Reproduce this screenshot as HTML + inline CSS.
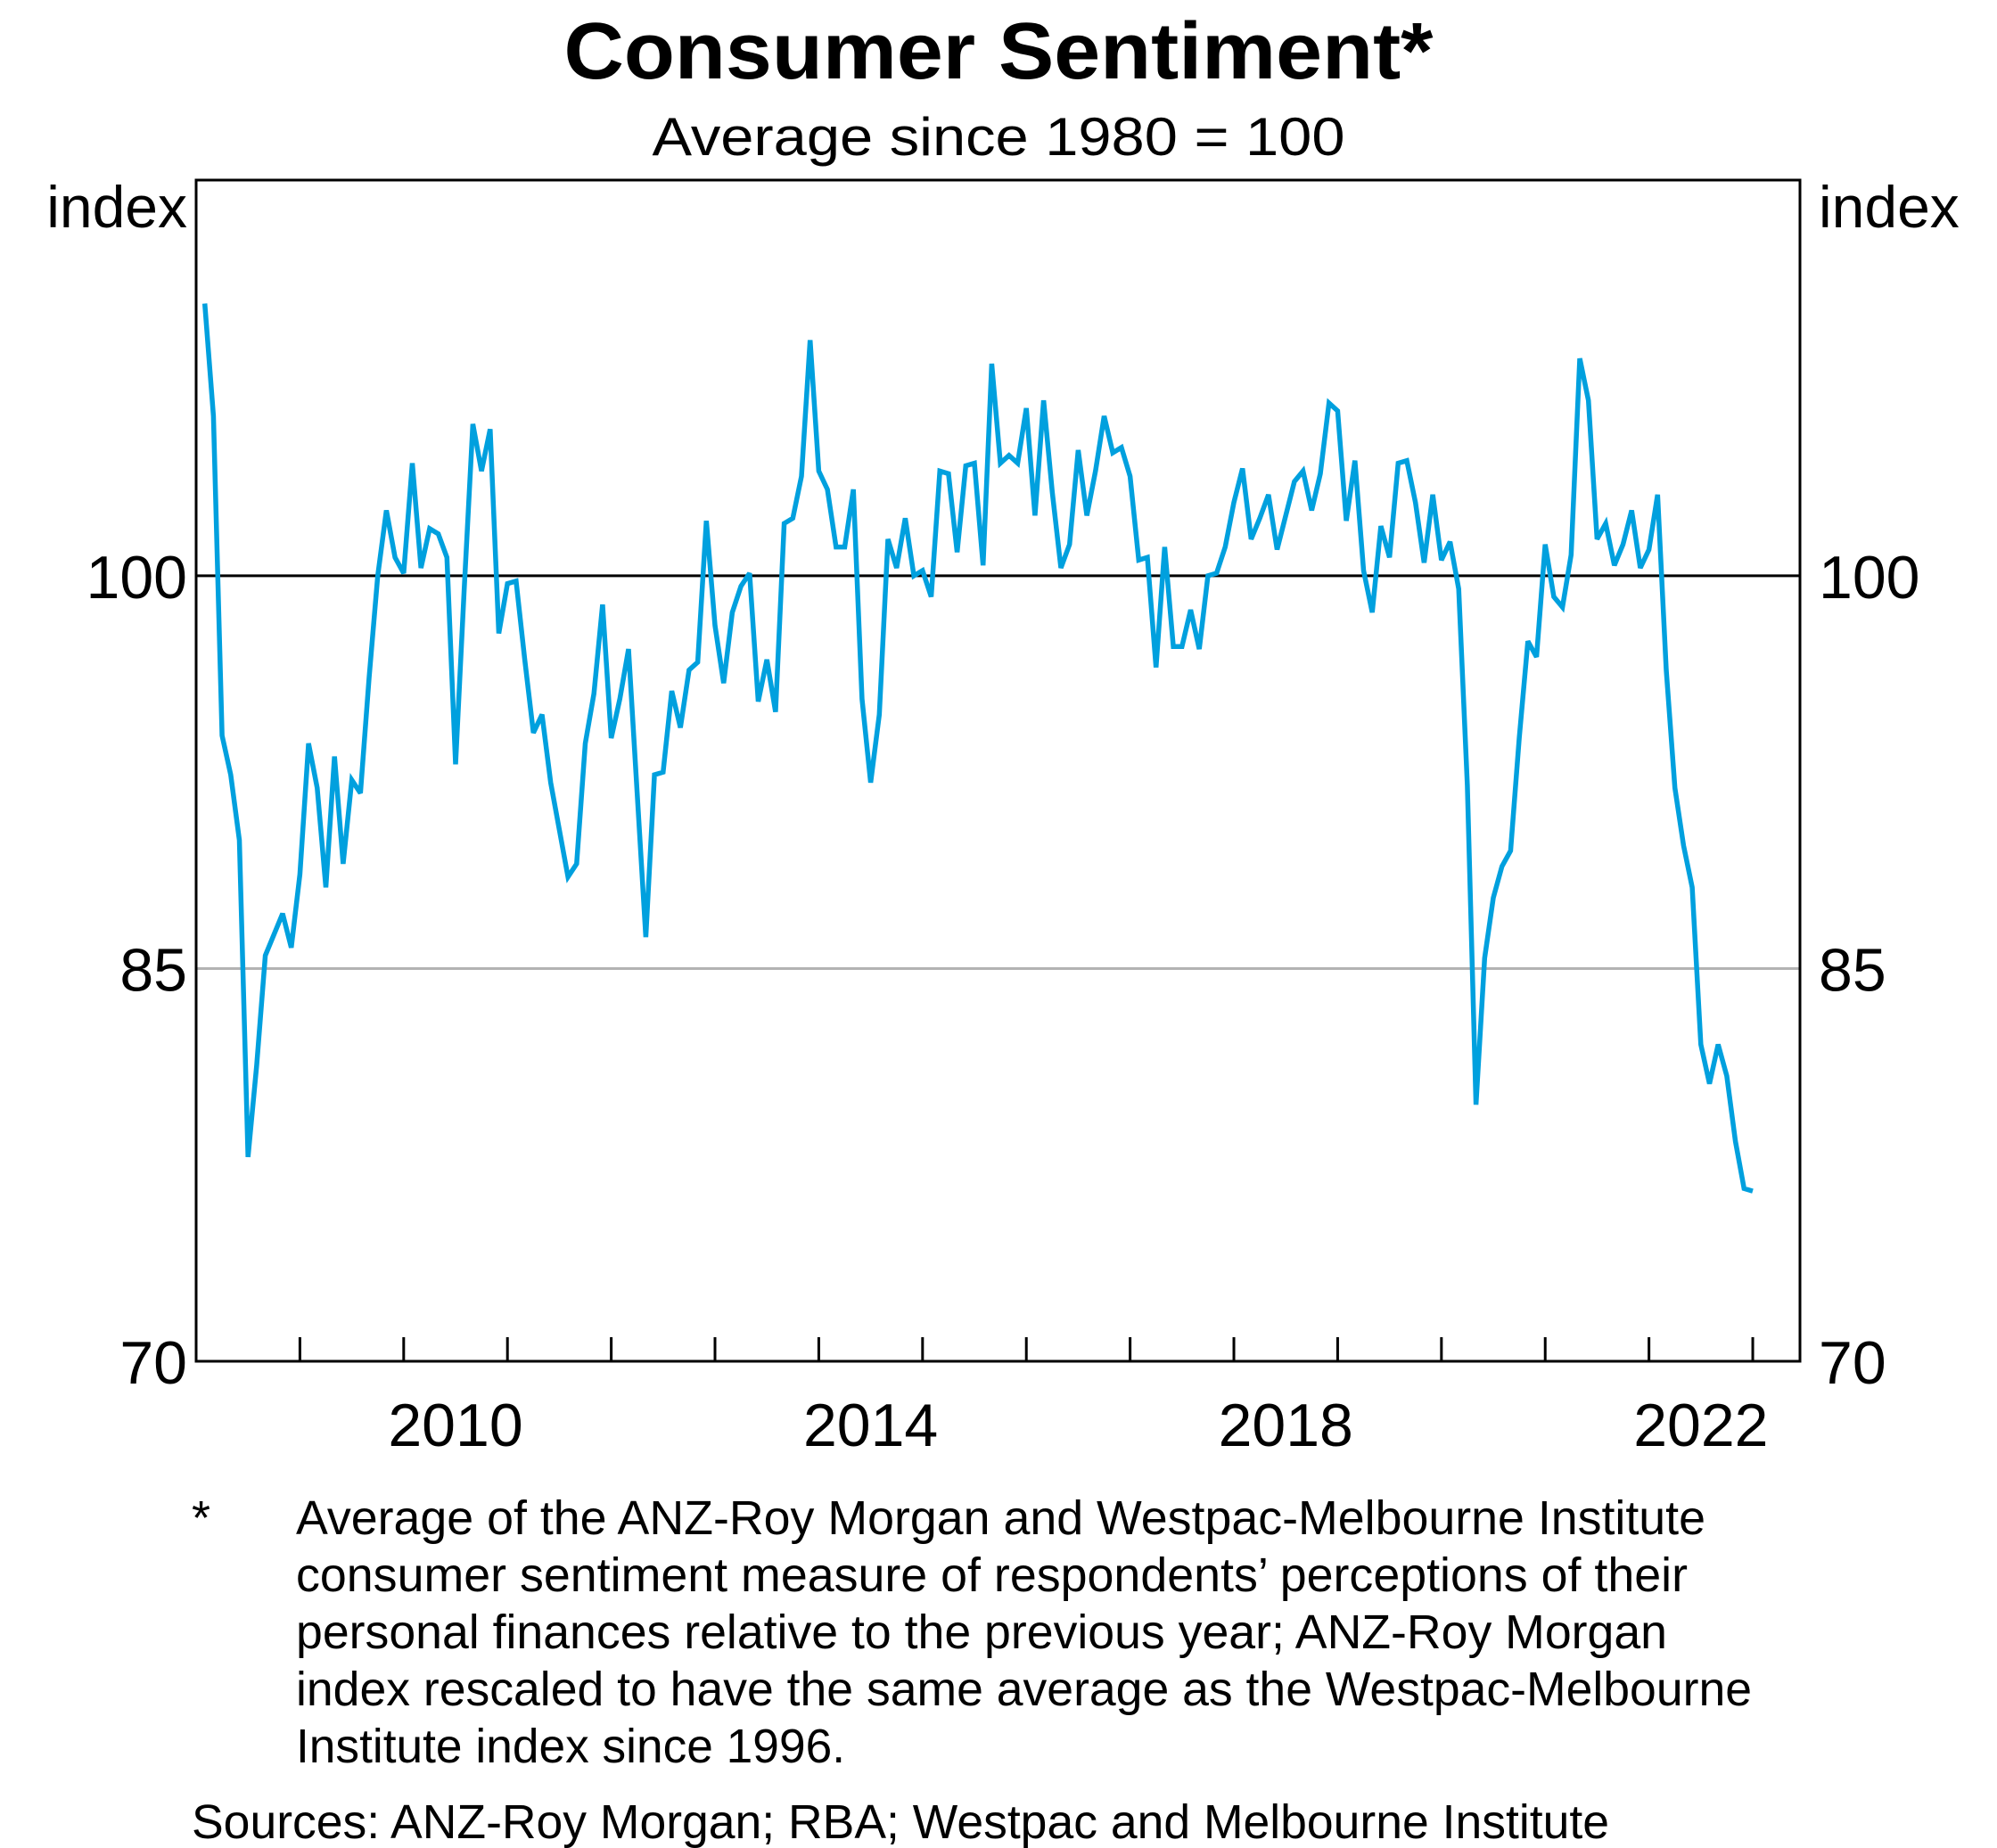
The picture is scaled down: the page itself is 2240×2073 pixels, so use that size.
<!DOCTYPE html>
<html><head><meta charset="utf-8">
<style>
html,body{margin:0;padding:0;background:#fff;}
svg{display:block;font-family:"Liberation Sans",Arial,sans-serif;}
</style></head>
<body>
<svg id="chart" width="2240" height="2073" viewBox="0 0 2240 2073" xmlns="http://www.w3.org/2000/svg">
  <rect width="2240" height="2073" fill="#fff"/>
  <text x="1120" y="88" text-anchor="middle" font-size="90" font-weight="bold" textLength="975" lengthAdjust="spacingAndGlyphs">Consumer Sentiment*</text>
  <text x="1120" y="174" text-anchor="middle" font-size="60" textLength="777" lengthAdjust="spacingAndGlyphs">Average since 1980 = 100</text>
  <text x="210" y="255" text-anchor="end" font-size="66">index</text>
  <text x="2040" y="255" text-anchor="start" font-size="66">index</text>
  <g id="grid"></g>
  <g id="series"></g>
  <rect x="220" y="202" width="1799" height="1325" fill="none" stroke="#000" stroke-width="3"/>
  <g id="xticks"></g>
  <g id="yticks"></g>
  <g font-size="54">
    <text x="215" y="1721">*</text>
    <text x="332" y="1721" textLength="1581" lengthAdjust="spacingAndGlyphs">Average of the ANZ-Roy Morgan and Westpac-Melbourne Institute</text>
    <text x="332" y="1785" textLength="1561" lengthAdjust="spacingAndGlyphs">consumer sentiment measure of respondents’ perceptions of their</text>
    <text x="332" y="1849" textLength="1538" lengthAdjust="spacingAndGlyphs">personal finances relative to the previous year; ANZ-Roy Morgan</text>
    <text x="332" y="1913" textLength="1633" lengthAdjust="spacingAndGlyphs">index rescaled to have the same average as the Westpac-Melbourne</text>
    <text x="332" y="1977" textLength="616" lengthAdjust="spacingAndGlyphs">Institute index since 1996.</text>
    <text x="215" y="2062" textLength="1590" lengthAdjust="spacingAndGlyphs">Sources: ANZ-Roy Morgan; RBA; Westpac and Melbourne Institute</text>
  </g>
</svg>
<script>
const startYear = 2008;
const values = [
110.4,106.1,93.9,92.4,89.9,77.8,81.3,85.5,86.3,87.1,85.8,88.6,
93.6,91.9,88.1,93.1,89.0,92.2,91.7,96.1,100.0,102.5,100.7,100.1,
104.3,100.3,101.8,101.6,100.7,92.8,99.5,105.8,104.0,105.6,97.8,99.7,
99.8,96.8,94.0,94.7,92.1,90.3,88.5,89.0,93.6,95.5,98.9,93.8,
95.3,97.2,91.7,86.2,92.4,92.5,95.6,94.2,96.4,96.7,102.1,98.1,
95.9,98.6,99.6,100.1,95.2,96.8,94.8,102.0,102.2,103.8,109.0,104.0,
103.3,101.1,101.1,103.3,95.3,92.1,94.7,101.4,100.3,102.2,100.0,100.2,
99.2,104.0,103.9,100.9,104.2,104.3,100.4,108.1,104.3,104.6,104.3,106.4,
102.3,106.7,103.2,100.3,101.2,104.8,102.3,104.0,106.1,104.7,104.9,103.8,
100.6,100.7,96.5,101.1,97.3,97.3,98.7,97.2,100.0,100.1,101.1,102.8,
104.1,101.4,102.2,103.1,101.0,102.3,103.6,104.0,102.5,103.9,106.6,106.3,
102.1,104.4,100.2,98.6,101.9,100.7,104.3,104.4,102.8,100.5,103.1,100.6,
101.3,99.5,92.0,79.8,85.4,87.7,88.9,89.5,93.8,97.5,96.9,101.2,
99.2,98.8,100.8,108.3,106.7,101.4,102.0,100.4,101.2,102.5,100.3,101.0,
103.1,96.4,91.9,89.7,88.1,82.1,80.6,82.1,80.9,78.4,76.6,76.5
];
const yTicks = [70, 85, 100];
const xTickYears = [2009,2010,2011,2012,2013,2014,2015,2016,2017,2018,2019,2020,2021,2022,2023];
const xLabels = [2010, 2014, 2018, 2022];

const NS = 'http://www.w3.org/2000/svg';
const L = 220, R = 2019, T = 202, B = 1527;
const xMin = 2008, xMax = 2023.455, yMin = 70, yPer = 29.37;
function xs(t){ return L + (t - xMin) / (xMax - xMin) * (R - L); }
function ys(v){ return B - (v - yMin) * yPer; }
function mk(tag, attrs){ const e = document.createElementNS(NS, tag); for (const k in attrs) e.setAttribute(k, attrs[k]); return e; }

const grid = document.getElementById('grid');
yTicks.forEach(v => {
  if (v === 70) return;
  const ln = mk('line', {x1: L, x2: R, y1: ys(v), y2: ys(v), stroke: v === 100 ? '#000' : '#b3b3b3', 'stroke-width': 3});
  
  
  grid.appendChild(ln);
});

const yt = document.getElementById('yticks');
yTicks.forEach(v => {
  const base = ys(v) + 25;
  const a = mk('text', {x: 210, y: base, 'text-anchor': 'end', 'font-size': 68});
  a.textContent = v;
  
  
  yt.appendChild(a);
  const b = mk('text', {x: 2040, y: base, 'text-anchor': 'start', 'font-size': 68});
  b.textContent = v;
  
  
  yt.appendChild(b);
});

const xt = document.getElementById('xticks');
xTickYears.forEach(yr => {
  const x = xs(yr);
  const tk = mk('line', {x1: x, x2: x, y1: B, y2: B - 27, stroke: '#000', 'stroke-width': 3});
  
  
  xt.appendChild(tk);
});
xLabels.forEach(yr => {
  const t = mk('text', {x: xs(yr + 0.5), y: 1622, 'text-anchor': 'middle', 'font-size': 68});
  t.textContent = yr;
  
  
  xt.appendChild(t);
});

const pts = values.map((v, i) => xs(startYear + (i + 1) / 12).toFixed(1) + ',' + ys(v).toFixed(1)).join(' ');
const line = mk('polyline', {points: pts, fill: 'none', stroke: '#00a0de', 'stroke-width': 5.5, 'stroke-linejoin': 'miter', 'stroke-miterlimit': 3});


document.getElementById('series').appendChild(line);
</script>
</body></html>
